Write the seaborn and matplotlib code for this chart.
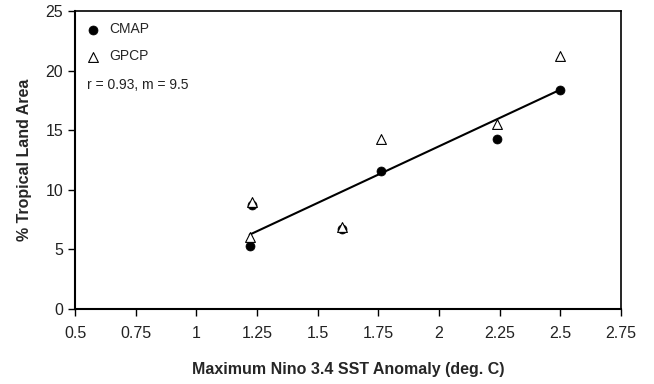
import numpy as np
import pandas as pd
import seaborn as sns
import matplotlib.pyplot as plt

# Values
sst_max = [1.22, 1.23, 1.60, 1.76, 2.24, 2.50]
cmap_area = [5.3, 8.7, 6.7, 11.6, 14.3, 18.4]
gpcp_area = [6.0, 9.0, 6.9, 14.3, 15.5, 21.2]

# fitted line: slope m = 9.5 over the range of the data
fit_slope = 9.5
fit_intercept = -5.35
r_value = 0.93

x_ticks = [0.5, 0.75, 1, 1.25, 1.5, 1.75, 2, 2.25, 2.5, 2.75]
x_tick_labels = ["0.5", "0.75", "1", "1.25", "1.5", "1.75", "2", "2.25", "2.5", "2.75"]
y_ticks = [0, 5, 10, 15, 20, 25]

sns.set_style("ticks")
plt.rcParams['font.family'] = ['Liberation Sans', 'DejaVu Sans']

fig = plt.figure(figsize=(6.54, 3.84), dpi=100)
ax = fig.add_axes([0.1147, 0.1953, 0.8348, 0.7761])

fit_x = np.array([min(sst_max), max(sst_max)])
fit_y = fit_slope * fit_x + fit_intercept
sns.lineplot(x=fit_x, y=fit_y, color="black", linewidth=1.5, ax=ax)

sns.scatterplot(x=sst_max, y=cmap_area, marker="o", color="black", s=42,
                edgecolor="black", linewidth=0.5, label="CMAP", ax=ax, zorder=3)
sns.scatterplot(x=sst_max, y=gpcp_area, marker="^", color="white", s=50,
                edgecolor="black", linewidth=0.8, label="GPCP", ax=ax, zorder=4)

ax.set_xlim(0.5, 2.75)
ax.set_ylim(0, 25)
ax.set_xticks(x_ticks)
ax.set_xticklabels(x_tick_labels)
ax.set_yticks(y_ticks)
ax.tick_params(axis="both", labelsize=11.5, length=5, width=1, color="black",
               labelcolor="#222222", direction="out")
ax.tick_params(axis="x", pad=7)
for side in ["left", "bottom", "right", "top"]:
    ax.spines[side].set_visible(True)
    ax.spines[side].set_color("black")
    ax.spines[side].set_linewidth(1.2)
ax.spines["left"].set_linewidth(1.5)
ax.spines["bottom"].set_linewidth(1.5)

ax.set_xlabel("Maximum Nino 3.4 SST Anomaly (deg. C)", fontsize=11.5,
              fontweight="bold", labelpad=15)
ax.set_ylabel("% Tropical Land Area", fontsize=11.5, fontweight="bold", labelpad=10)

ax.legend(loc="upper left", frameon=False, fontsize=10, handletextpad=0.15,
          labelspacing=0.95, borderaxespad=0.2, bbox_to_anchor=(-0.008, 0.99))
ax.text(0.022, 0.752, f"r = {r_value}, m = {fit_slope}", transform=ax.transAxes,
        fontsize=10, va="center", ha="left", color="#222222")

fig.savefig("out.png", dpi=100)
